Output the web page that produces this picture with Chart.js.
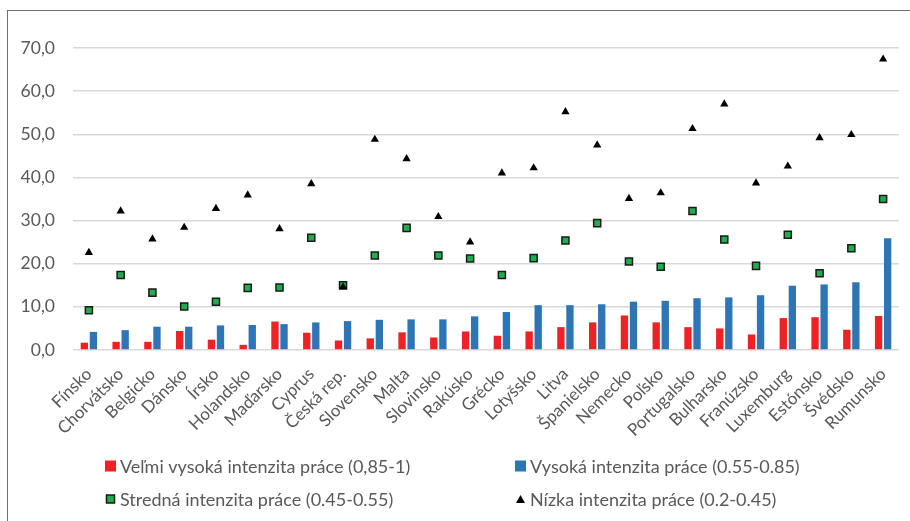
<!DOCTYPE html>
<html>
<head>
<meta charset="utf-8">
<script src="https://cdn.jsdelivr.net/npm/chart.js@4.4.1/dist/chart.umd.min.js"></script>
<style>
  body { margin: 0; background: #fff; width: 910px; height: 521px; overflow: hidden; position: relative; }
  #frame { position: absolute; left: 7px; top: 10px; width: 1000px; height: 600px; border: 1px solid #6f6f6f; }
  #wrap { position: absolute; left: 0; top: 0; width: 910px; height: 521px; }
</style>
</head>
<body>
<div id="frame"></div>
<div id="wrap"><canvas id="workIntensity"></canvas></div>
<script>
const countries = ['Fínsko', 'Chorvátsko', 'Belgicko', 'Dánsko', 'Írsko', 'Holandsko', 'Maďarsko', 'Cyprus',
    'Česká rep.', 'Slovensko', 'Malta', 'Slovinsko', 'Rakúsko', 'Grécko', 'Lotyšsko', 'Litva', 'Španielsko',
    'Nemecko', 'Poľsko', 'Portugalsko', 'Bulharsko', 'Franúzsko', 'Luxemburg', 'Estónsko', 'Švédsko', 'Rumunsko'];

// Veľmi vysoká intenzita práce (0,85-1)
const veryHigh = [1.7, 1.9, 1.9, 4.4, 2.4, 1.2, 6.6, 4.0, 2.2, 2.7, 4.1, 2.9, 4.3,
    3.3, 4.3, 5.3, 6.4, 8.0, 6.4, 5.3, 5.0, 3.6, 7.4, 7.6, 4.7, 7.9];
// Vysoká intenzita práce (0.55-0.85)
const high = [4.2, 4.6, 5.4, 5.4, 5.7, 5.8, 6.0, 6.4, 6.7, 7.0, 7.1, 7.1, 7.8,
    8.8, 10.4, 10.4, 10.6, 11.2, 11.4, 12.0, 12.2, 12.7, 14.9, 15.2, 15.7, 25.9];
// Stredná intenzita práce (0.45-0.55)
const medium = [9.2, 17.4, 13.3, 10.1, 11.2, 14.4, 14.5, 26.0, 15.0, 21.9, 28.3, 21.9, 21.2,
    17.4, 21.3, 25.4, 29.4, 20.5, 19.3, 32.2, 25.6, 19.5, 26.7, 17.8, 23.6, 35.0];
// Nízka intenzita práce (0.2-0.45)
const low = [22.6, 32.2, 25.7, 28.4, 32.8, 35.9, 28.1, 38.5, 14.6, 48.8, 44.3, 30.9, 25.0,
    41.0, 42.2, 55.2, 47.5, 35.1, 36.4, 51.3, 57.0, 38.7, 42.6, 49.2, 49.9, 67.4];

const seriesNames = ['Veľmi vysoká intenzita práce (0,85-1)', 'Vysoká intenzita práce (0.55-0.85)',
    'Stredná intenzita práce (0.45-0.55)', 'Nízka intenzita práce (0.2-0.45)'];

const textColor = '#595959';

// Excel-like 2x2 legend under the axis
const gridLegend = {
    id: 'gridLegend',
    afterDraw(chart) {
        const ctx = chart.ctx;
        const spots = [[105, 466], [515, 466], [105, 499], [515, 499]];
        ctx.save();
        ctx.font = '18px Lato';
        ctx.textBaseline = 'middle';
        chart.data.datasets.forEach((ds, i) => {
            const [x, y] = spots[i];
            if (ds.type === 'bar') {
                ctx.fillStyle = ds.backgroundColor;
                ctx.fillRect(x, y - 5.5, 11, 11);
            } else if (ds.pointStyle === 'rect') {
                ctx.fillStyle = ds.pointBackgroundColor;
                ctx.strokeStyle = ds.pointBorderColor;
                ctx.lineWidth = 1.5;
                ctx.fillRect(x + 1.5, y - 4, 8, 8);
                ctx.strokeRect(x + 1.5, y - 4, 8, 8);
            } else {
                ctx.fillStyle = ds.pointBackgroundColor;
                ctx.beginPath();
                ctx.moveTo(x + 5.5, y - 4);
                ctx.lineTo(x + 10, y + 4);
                ctx.lineTo(x + 1, y + 4);
                ctx.closePath();
                ctx.fill();
            }
            ctx.fillStyle = textColor;
            ctx.fillText(ds.label, x + 15, y + 1);
        });
        ctx.restore();
    }
};

const ctx = document.getElementById('workIntensity').getContext('2d');
new Chart(ctx, {
    type: 'bar',
    data: {
        labels: countries,
        datasets: [{
            type: 'bar',
            label: seriesNames[0],
            data: veryHigh,
            backgroundColor: '#EE2125',
            order: 2
        }, {
            type: 'bar',
            label: seriesNames[1],
            data: high,
            backgroundColor: '#2E75B6',
            order: 2
        }, {
            type: 'line',
            label: seriesNames[2],
            data: medium,
            showLine: false,
            pointStyle: 'rect',
            pointRadius: 5,
            pointBackgroundColor: '#1FAE4C',
            pointBorderColor: '#1a1a1a',
            pointBorderWidth: 1.5,
            order: 1
        }, {
            type: 'line',
            label: seriesNames[3],
            data: low,
            showLine: false,
            pointStyle: 'triangle',
            pointRadius: 4.8,
            pointBackgroundColor: '#000',
            pointBorderColor: '#000',
            pointBorderWidth: 0,
            order: 0
        }]
    },
    options: {
        responsive: true,
        maintainAspectRatio: false,
        animation: false,
        categoryPercentage: 0.57,
        barPercentage: 0.81,
        layout: { padding: { top: 48, right: 11, bottom: 0, left: 0 } },
        plugins: {
            legend: { display: false },
            tooltip: { enabled: false }
        },
        scales: {
            x: {
                offset: true,
                grid: { display: false },
                border: { display: false },
                ticks: {
                    color: textColor,
                    font: { family: 'Lato', size: 17 },
                    autoSkip: false,
                    minRotation: 45,
                    maxRotation: 45,
                    padding: 6
                },
                afterFit(scale) { scale.height = 171; }
            },
            y: {
                min: 0,
                max: 70,
                grid: { color: '#D9D9D9', lineWidth: 1.5, drawTicks: false },
                border: { display: false },
                ticks: {
                    stepSize: 10,
                    color: textColor,
                    font: { family: 'Lato', size: 17.5 },
                    padding: 18,
                    callback: v => v.toFixed(1).replace('.', ',')
                },
                afterFit(scale) { scale.width = 73; }
            }
        }
    },
    plugins: [gridLegend]
});
</script>
</body>
</html>
